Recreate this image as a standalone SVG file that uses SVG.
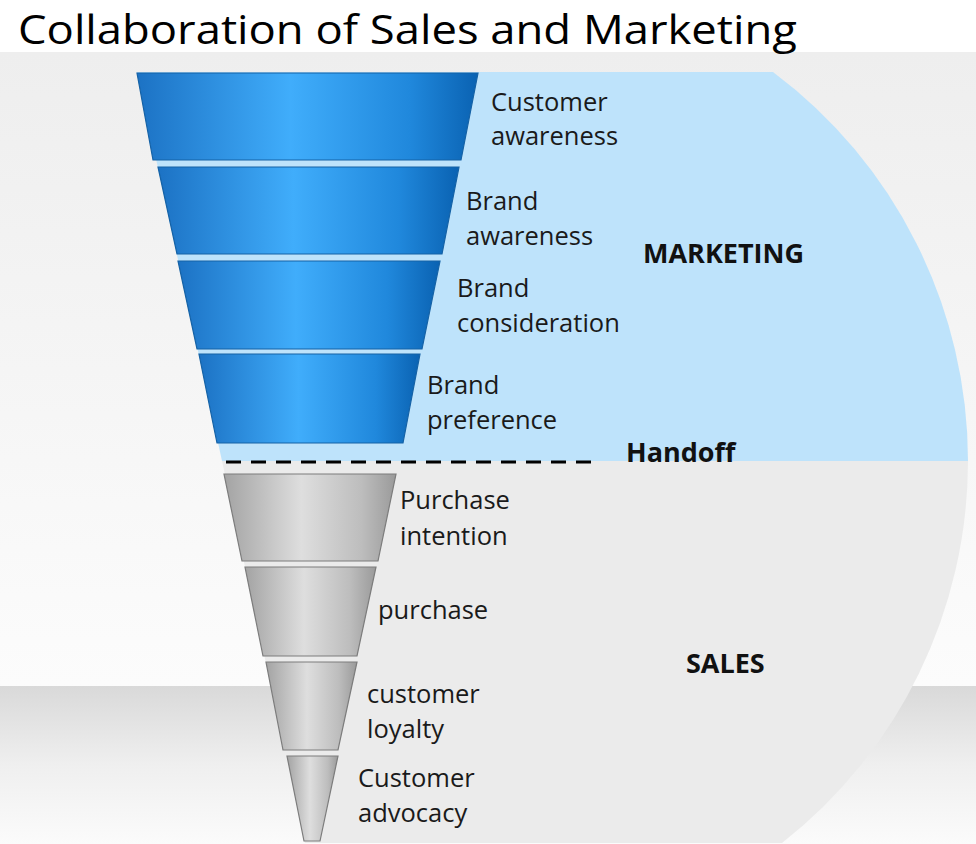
<svg xmlns="http://www.w3.org/2000/svg" width="976" height="844" viewBox="0 0 976 844">
<defs>
<linearGradient id="bgTop" x1="0" y1="0" x2="0" y2="1">
<stop offset="0" stop-color="#eeeeee"/>
<stop offset="1" stop-color="#fcfcfc"/>
</linearGradient>
<linearGradient id="floor" x1="0" y1="0" x2="0" y2="1">
<stop offset="0" stop-color="#d9d9d9"/>
<stop offset="0.5" stop-color="#efefef"/>
<stop offset="1" stop-color="#fbfbfb"/>
</linearGradient>
<linearGradient id="blueSeg" x1="0" y1="0" x2="1" y2="0">
<stop offset="0" stop-color="#1c72c4"/>
<stop offset="0.45" stop-color="#40adfb"/>
<stop offset="0.8" stop-color="#2088dc"/>
<stop offset="1" stop-color="#0a62b2"/>
</linearGradient>
<linearGradient id="graySeg" x1="0" y1="0" x2="1" y2="0">
<stop offset="0" stop-color="#a3a3a3"/>
<stop offset="0.45" stop-color="#dedede"/>
<stop offset="0.8" stop-color="#bdbdbd"/>
<stop offset="1" stop-color="#9a9a9a"/>
</linearGradient>
<style>
.blue{fill:url(#blueSeg);stroke:#1562a6;stroke-width:1.2}
.gray{fill:url(#graySeg);stroke:#7c7c7c;stroke-width:1.2}
.lbl{font-family:"Open Sans","Noto Sans","DejaVu Sans",sans-serif;font-size:25.5px;fill:#1a1a1a}
.big{font-family:"Open Sans","Noto Sans","DejaVu Sans",sans-serif;font-size:27px;font-weight:bold;fill:#111}
</style>
</defs>

<g id="background">
<rect x="0" y="0" width="976" height="844" fill="#ffffff"/>
<rect x="0" y="52" width="976" height="634" fill="url(#bgTop)"/>
<rect x="0" y="686" width="976" height="158" fill="url(#floor)"/>
</g>

<g id="title">
<text x="18" y="44" font-family="'Open Sans','Noto Sans',sans-serif" font-size="41" fill="#000" textLength="779" lengthAdjust="spacingAndGlyphs">Collaboration of Sales and Marketing</text>
</g>

<g id="marketing-region">
<path d="M137,72 L773,72 A486,486 0 0 1 968,461 L222,461 Z" fill="#bee3fb"/>
<text class="big" x="643" y="263">MARKETING</text>
</g>

<g id="sales-region">
<path d="M222,461 L968,461 A486,486 0 0 1 782,843 L305,843 Z" fill="#ebebeb"/>
<text class="big" x="686" y="673">SALES</text>
</g>

<g id="handoff">
<line x1="226" y1="462" x2="600" y2="462" stroke="#000" stroke-width="3" stroke-dasharray="15 10"/>
<text class="big" x="626" y="462" font-size="26">Handoff</text>
</g>

<g id="customer-awareness">
<polygon class="blue" points="137,73 478,73 461,160 153,160"/>
<text class="lbl" x="491" y="111">Customer</text>
<text class="lbl" x="491" y="145">awareness</text>
</g>

<g id="brand-awareness">
<polygon class="blue" points="158,167 459,167 442,254 177,254"/>
<text class="lbl" x="466" y="210">Brand</text>
<text class="lbl" x="466" y="245">awareness</text>
</g>

<g id="brand-consideration">
<polygon class="blue" points="178,261 440,261 422,349 197,349"/>
<text class="lbl" x="457" y="297">Brand</text>
<text class="lbl" x="457" y="332">consideration</text>
</g>

<g id="brand-preference">
<polygon class="blue" points="199,354 420,354 403,443 217,443"/>
<text class="lbl" x="427" y="394">Brand</text>
<text class="lbl" x="427" y="429">preference</text>
</g>

<g id="purchase-intention">
<polygon class="gray" points="224,474 396,474 378,561 242,561"/>
<text class="lbl" x="400" y="509">Purchase</text>
<text class="lbl" x="400" y="545">intention</text>
</g>

<g id="purchase">
<polygon class="gray" points="245,567 376,567 357,656 263,656"/>
<text class="lbl" x="378" y="619">purchase</text>
</g>

<g id="customer-loyalty">
<polygon class="gray" points="266,662 357,662 338,750 283,750"/>
<text class="lbl" x="367" y="703">customer</text>
<text class="lbl" x="367" y="738">loyalty</text>
</g>

<g id="customer-advocacy">
<polygon class="gray" points="287,756 338,756 320,841 304,841"/>
<text class="lbl" x="358" y="787">Customer</text>
<text class="lbl" x="358" y="822">advocacy</text>
</g>

<g id="connectors"/>
</svg>
